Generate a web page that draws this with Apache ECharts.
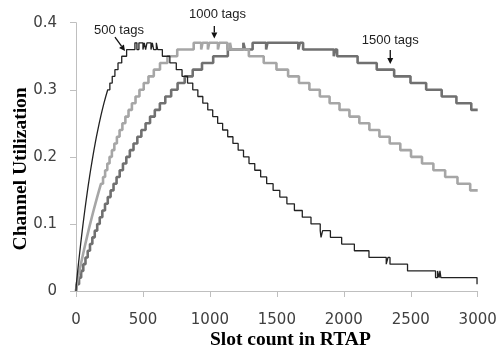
<!DOCTYPE html>
<html><head><meta charset="utf-8">
<script src="https://cdn.jsdelivr.net/npm/echarts@6/dist/echarts.min.js"></script>
<style>html,body{margin:0;padding:0;background:#fff}#c{width:496px;height:354px}</style>
</head><body><div id="c"></div>
<script>
// ---- data ----
// each series: slot count where the utilization level changes, and the new level
const slots500 = [0,2.5,7.6,12.8,18.1,23.6,29.2,34.8,40.7,46.7,52.8,59.1,65.6,72.2,79.1,86.1,93.4,101,108.8,116.9,125.3,134,143.2,152.7,162.7,173.2,184.4,196.2,208.8,222.3,236.9,252.9,270.6,290.6,313.7,341.5,378,440,455,470,500,510,520,530,560,570,580,600,610,645,701,749,792,833,872,910,947,984,1021,1058,1095,1133,1172,1211,1251,1292,1335,1379,1424,1472,1522,1575,1631,1690,1755,1824,1830,1842,1900,1984,2079,2188,2317,2330,2345,2476,2685,2700,2712,2718,2725,2995,3000];
const util500  = [0,0.01,0.02,0.03,0.04,0.05,0.06,0.07,0.08,0.09,0.10,0.11,0.12,0.13,0.14,0.15,0.16,0.17,0.18,0.19,0.20,0.21,0.22,0.23,0.24,0.25,0.26,0.27,0.28,0.29,0.30,0.31,0.32,0.33,0.34,0.35,0.36,0.37,0.36,0.37,0.36,0.37,0.36,0.37,0.36,0.37,0.36,0.37,0.36,0.35,0.34,0.33,0.32,0.31,0.30,0.29,0.28,0.27,0.26,0.25,0.24,0.23,0.22,0.21,0.20,0.19,0.18,0.17,0.16,0.15,0.14,0.13,0.12,0.11,0.10,0.09,0.08,0.09,0.08,0.07,0.06,0.05,0.04,0.05,0.04,0.03,0.02,0.03,0.02,0.03,0.02,0.01,0.01];

const slots1000 = [0,5,15.2,25.7,36.3,47.2,58.3,69.7,81.4,93.3,105.6,118.2,131.1,144.4,158.1,172.3,186.9,201.9,217.5,233.7,250.5,268,286.3,305.4,325.4,346.4,368.7,392.3,417.5,444.5,473.8,505.8,541.2,581.1,627.3,683,756,879,935,945,985,995,1060,1070,1130,1150,1160,1291,1402,1497,1584,1665,1743,1821,1894,1968,2042,2116,2191,2266,2343,2422,2502,2584,2669,2757,2849,2944,3000];
const util1000  = [0,0.01,0.02,0.03,0.04,0.05,0.06,0.07,0.08,0.09,0.10,0.11,0.12,0.13,0.14,0.15,0.16,0.17,0.18,0.19,0.20,0.21,0.22,0.23,0.24,0.25,0.26,0.27,0.28,0.29,0.30,0.31,0.32,0.33,0.34,0.35,0.36,0.37,0.36,0.37,0.36,0.37,0.36,0.37,0.36,0.37,0.36,0.35,0.34,0.33,0.32,0.31,0.30,0.29,0.28,0.27,0.26,0.25,0.24,0.23,0.22,0.21,0.20,0.19,0.18,0.17,0.16,0.15,0.15];

const slots1500 = [0,7.5,22.8,38.5,54.4,70.8,87.5,104.5,122,140,158.4,177.3,196.7,216.6,237.2,258.4,280.3,302.9,326.3,350.6,375.8,402,429.5,458.1,488.1,519.6,553,588.5,626.3,666.8,710.7,758.7,811.8,871.7,941,1024.5,1134,1250,1262,1319,1420,1430,1660,1672,1696,1925,1935,1950,2103,2246,2376,2498,2615,2731,2841,2952,3000];
const util1500  = [0,0.01,0.02,0.03,0.04,0.05,0.06,0.07,0.08,0.09,0.10,0.11,0.12,0.13,0.14,0.15,0.16,0.17,0.18,0.19,0.20,0.21,0.22,0.23,0.24,0.25,0.26,0.27,0.28,0.29,0.30,0.31,0.32,0.33,0.34,0.35,0.36,0.37,0.36,0.37,0.36,0.37,0.36,0.37,0.36,0.35,0.36,0.35,0.34,0.33,0.32,0.31,0.30,0.29,0.28,0.27,0.27];

const labelTexts = ['500 tags','1000 tags','1500 tags'];
const labelPos   = [[321,0.388],[1057,0.412],[2347,0.373]];   // [slot, utilization]
const arrowFrom  = [[291,0.3785],[1033,0.395],[2347,0.3592]];
const arrowTo    = [[366,0.3577],[1033,0.3766],[2347,0.3383]];

const zip = (a,b) => a.map((v,i)=>[v,b[i]]);

const chart = echarts.init(document.getElementById('c'), null, {renderer:'canvas'});
const axisLabelStyle = {fontFamily:'DejaVu Sans', fontSize:15, color:'#404040'};
chart.setOption({
  backgroundColor:'#fff',
  animation:false,
  grid:{left:76, right:18.3, top:22.7, bottom:63, containLabel:false, outerBoundsMode:'none'},
  xAxis:{
    type:'value', min:0, max:3000, interval:500,
    name:'Slot count in RTAP', nameLocation:'middle', nameGap:39, nameMoveOverlap:false,
    nameTextStyle:{fontFamily:'Liberation Serif', fontWeight:'bold', fontSize:19.5, color:'#000', padding:[0,0,0,27]},
    axisLine:{show:true, lineStyle:{color:'#bfbfbf', width:1}},
    axisTick:{show:true, length:6, lineStyle:{color:'#bfbfbf'}},
    splitLine:{show:false},
    axisLabel:Object.assign({margin:22, formatter:v=>String(v)}, axisLabelStyle)
  },
  yAxis:{
    type:'value', min:0, max:0.4, interval:0.1,
    name:'Channel Utilization', nameLocation:'middle', nameGap:45, nameRotate:90, nameMoveOverlap:false,
    nameTextStyle:{fontFamily:'Liberation Serif', fontWeight:'bold', fontSize:19.5, color:'#000', padding:[0,24,0,0]},
    axisLine:{show:true, lineStyle:{color:'#bfbfbf', width:1}},
    axisTick:{show:true, length:6, lineStyle:{color:'#bfbfbf'}},
    splitLine:{show:false},
    axisLabel:Object.assign({margin:19, formatter:v=>String(+v.toFixed(1))}, axisLabelStyle)
  },
  series:[
    {type:'line', step:'end', showSymbol:false, data:zip(slots1500,util1500), lineStyle:{color:'#707070', width:2.6}},
    {type:'line', step:'end', showSymbol:false, data:zip(slots1000,util1000), lineStyle:{color:'#a6a6a6', width:2.6}},
    {type:'line', step:'end', showSymbol:false, data:zip(slots500,util500), lineStyle:{color:'#222', width:1.3}}
  ]
});

// annotations placed through the chart's own scales
const g = [];
labelTexts.forEach((t,i)=>{
  const p = chart.convertToPixel({gridIndex:0}, labelPos[i]);
  g.push({type:'text', x:p[0], y:p[1], style:{text:t, font:'13px "Liberation Sans"', fill:'#222', textAlign:'center', textVerticalAlign:'middle'}});
  const a = chart.convertToPixel({gridIndex:0}, arrowFrom[i]);
  const b = chart.convertToPixel({gridIndex:0}, arrowTo[i]);
  const ang = Math.atan2(b[1]-a[1], b[0]-a[0]);
  const L = 6, W = 3;
  const bx = b[0]-L*Math.cos(ang), by = b[1]-L*Math.sin(ang);
  g.push({type:'line', shape:{x1:a[0],y1:a[1],x2:bx,y2:by}, style:{stroke:'#111', lineWidth:1.3}});
  g.push({type:'polygon', shape:{points:[[b[0],b[1]],[bx+W*Math.sin(ang),by-W*Math.cos(ang)],[bx-W*Math.sin(ang),by+W*Math.cos(ang)]]}, style:{fill:'#111'}});
});
chart.setOption({graphic:g});
</script></body></html>
